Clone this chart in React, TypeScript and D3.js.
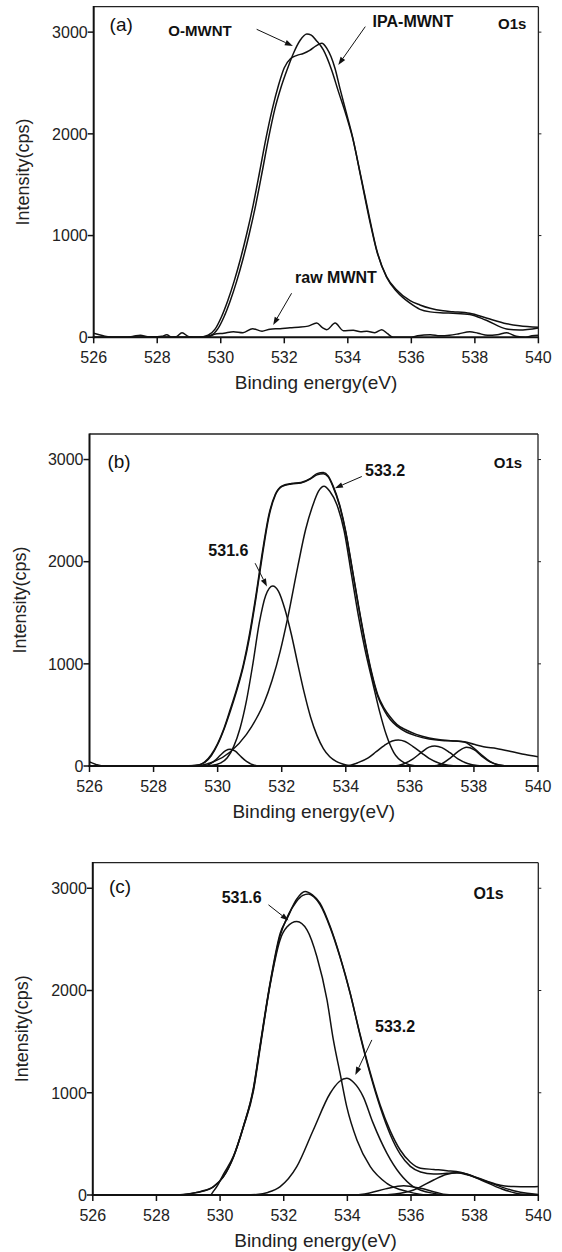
import React from "react";
import * as d3 from "d3";

type Pt = [number, number];

// ---------- axes ----------
const xTicks = [526, 528, 530, 532, 534, 536, 538, 540];
const yTicks = [0, 1000, 2000, 3000];
const xDomain: [number, number] = [526, 540];
const yDomain: [number, number] = [0, 3250];
const xTitle = "Binding energy(eV)";
const yTitle = "Intensity(cps)";

// ---------- panel (a) ----------
const aOMWNT: Pt[] = [
  [526, 0], [529.4, 0], [529.7, 20], [529.9, 80], [530.1, 200], [530.3, 360], [530.5, 550], [530.7, 770],
  [530.9, 1020], [531.1, 1300], [531.3, 1620], [531.5, 1950], [531.7, 2240], [531.9, 2460], [532.1, 2640],
  [532.3, 2800], [532.5, 2920], [532.71, 2982], [532.85, 2970], [533.0, 2920], [533.23, 2825], [533.49, 2628],
  [533.7, 2420], [533.95, 2180], [534.15, 1960], [534.4, 1600], [534.7, 1150], [534.91, 858], [535.22, 596],
  [535.54, 465], [535.96, 360], [536.27, 318], [536.59, 285], [537.0, 260], [537.31, 252], [537.84, 236],
  [538.36, 190], [539.0, 134], [539.4, 114], [540, 98],
];
const aIPAMWNT: Pt[] = [
  [526, 0], [529.3, 0], [529.6, 20], [529.82, 80], [530.02, 200], [530.22, 360], [530.42, 550], [530.62, 770],
  [530.82, 1020], [531.02, 1300], [531.22, 1620], [531.42, 1950], [531.62, 2240], [531.82, 2480], [532.0, 2650],
  [532.2, 2740], [532.4, 2772], [532.6, 2790], [532.8, 2820], [533.0, 2865], [533.18, 2891], [533.34, 2841],
  [533.47, 2760], [533.6, 2640], [533.75, 2450], [533.95, 2210], [534.15, 1970], [534.4, 1590], [534.7, 1130],
  [534.91, 850], [535.22, 590], [535.54, 450], [535.96, 335], [536.27, 275], [536.59, 250], [537.0, 240],
  [537.31, 236], [537.84, 225], [538.36, 167], [539.0, 82], [539.4, 72], [540, 92],
];
const aRawMWNT: Pt[] = [
  [526, 40], [526.3, 15], [526.6, 0], [527.0, 0], [527.25, 10], [527.47, 20], [527.7, 6], [528.0, 5], [528.15, 10],
  [528.3, 25], [528.46, 0], [528.6, 5], [528.78, 45], [529.0, 5], [529.3, 0], [529.6, 5], [529.8, 30], [530.1, 40],
  [530.4, 55], [530.7, 45], [531.0, 85], [531.3, 60], [531.55, 80], [531.87, 85], [532.18, 95], [532.45, 100],
  [532.75, 110], [533.02, 140], [533.2, 95], [533.34, 75], [533.6, 140], [533.86, 65], [534.17, 70], [534.4, 55],
  [534.6, 60], [534.85, 45], [535.07, 75], [535.25, 35], [535.43, 0], [536.0, 0], [536.2, 15], [536.6, 25],
  [536.9, 15], [537.2, 20], [537.5, 35], [537.84, 55], [538.1, 40], [538.4, 20], [538.7, 25], [539.0, 45],
  [539.3, 10], [539.6, 0], [539.8, 15], [540, 20],
];

// ---------- panel (b) ----------
const bData: Pt[] = [
  [526, 40], [526.2, 15], [526.4, 0], [529.0, 0], [529.4, 10], [529.6, 40], [529.8, 110], [530.0, 220],
  [530.2, 370], [530.4, 560], [530.6, 760], [530.8, 990], [531.0, 1300], [531.2, 1680], [531.4, 2100],
  [531.6, 2460], [531.8, 2660], [532.0, 2740], [532.3, 2765], [532.6, 2775], [532.9, 2815], [533.1, 2862],
  [533.3, 2872], [533.45, 2840], [533.6, 2745], [533.8, 2565], [534.0, 2295], [534.2, 1935], [534.4, 1565],
  [534.6, 1225], [534.8, 925], [535.0, 695], [535.2, 565], [535.4, 475], [535.6, 405], [535.9, 350],
  [536.2, 310], [536.6, 275], [537.0, 255], [537.4, 245], [537.7, 238], [538.0, 212], [538.3, 188],
  [538.7, 172], [539.2, 140], [539.6, 112], [540, 90],
];
const bEnvelope: Pt[] = [
  [526, 0], [528.5, 0], [529.3, 5], [529.6, 35], [529.8, 100], [530.0, 210], [530.2, 360], [530.4, 540],
  [530.6, 740], [530.8, 970], [531.0, 1270], [531.2, 1650], [531.4, 2070], [531.6, 2440], [531.8, 2650],
  [532.0, 2735], [532.3, 2760], [532.6, 2770], [532.9, 2810], [533.1, 2850], [533.3, 2860], [533.45, 2830],
  [533.6, 2735], [533.8, 2555], [534.0, 2285], [534.2, 1925], [534.4, 1555], [534.6, 1210], [534.8, 910],
  [535.0, 680], [535.2, 545], [535.4, 450], [535.6, 390], [535.9, 330], [536.2, 295], [536.6, 265],
  [537.0, 250], [537.4, 245], [537.7, 235], [537.9, 200], [538.2, 120], [538.5, 45], [538.8, 8], [539.1, 0],
  [540, 0],
];
const bPeak1: Pt[] = [
  [526, 0], [529.5, 0], [529.7, 10], [529.9, 50], [530.1, 110], [530.25, 150], [530.39, 163], [530.55, 145],
  [530.7, 100], [530.9, 45], [531.1, 12], [531.3, 0], [540, 0],
];
const bPeak2: Pt[] = [
  [526, 0], [529.5, 0], [529.8, 5], [530.1, 30], [530.3, 80], [530.5, 190], [530.7, 370], [530.9, 640],
  [531.1, 1000], [531.3, 1400], [531.5, 1670], [531.72, 1763], [531.9, 1710], [532.1, 1535], [532.3, 1290],
  [532.5, 1000], [532.7, 720], [532.9, 480], [533.1, 300], [533.3, 170], [533.5, 90], [533.7, 45],
  [533.9, 20], [534.1, 5], [534.4, 0], [540, 0],
];
const bPeak3: Pt[] = [
  [526, 0], [529.3, 0], [529.6, 15], [529.9, 45], [530.4, 140], [530.9, 310], [531.2, 460], [531.45, 620],
  [531.7, 840], [531.95, 1120], [532.2, 1470], [532.5, 1950], [532.75, 2320], [532.98, 2560], [533.15, 2690],
  [533.32, 2739], [533.5, 2690], [533.72, 2560], [533.95, 2300], [534.18, 1870], [534.4, 1460],
  [534.6, 1140], [534.83, 830], [535.05, 540], [535.27, 300], [535.5, 130], [535.83, 30], [536.2, 0],
  [540, 0],
];
const bPeak4: Pt[] = [
  [526, 0], [534.0, 0], [534.4, 35], [534.7, 80], [534.95, 140], [535.2, 200], [535.45, 245], [535.64, 255],
  [535.85, 240], [536.1, 190], [536.37, 127], [536.6, 75], [536.9, 30], [537.2, 8], [537.5, 0], [540, 0],
];
const bPeak5: Pt[] = [
  [526, 0], [535.5, 0], [535.8, 20], [536.1, 70], [536.35, 130], [536.6, 185], [536.78, 196], [537.0, 180],
  [537.25, 130], [537.5, 70], [537.8, 25], [538.1, 5], [538.4, 0], [540, 0],
];
const bPeak6: Pt[] = [
  [526, 0], [536.7, 0], [537.0, 22], [537.25, 75], [537.5, 140], [537.77, 183], [538.0, 160], [538.25, 95],
  [538.5, 40], [538.8, 10], [539.1, 0], [540, 0],
];

// ---------- panel (c) ----------
const cData: Pt[] = [
  [526, 0], [529.69, 0], [529.8, 40], [529.95, 110], [530.1, 200], [530.42, 380], [530.73, 668],
  [531.05, 1040], [531.25, 1440], [531.57, 2060], [531.89, 2540], [532.1, 2710], [532.4, 2870],
  [532.6, 2930], [532.78, 2945], [532.95, 2915], [533.14, 2840], [533.46, 2615], [533.77, 2325],
  [534.09, 1968], [534.4, 1570], [534.72, 1195], [535.03, 880], [535.35, 625], [535.66, 440],
  [535.98, 320], [536.3, 262], [536.71, 250], [537.13, 238], [537.55, 222], [537.97, 182], [538.39, 135],
  [538.81, 95], [539.23, 82], [539.65, 80], [540, 84],
];
const cEnvelope: Pt[] = [
  [526, 0], [528.0, 0], [528.74, 3], [529.37, 33], [529.79, 82], [530.1, 179], [530.42, 375], [530.73, 668],
  [531.05, 1050], [531.25, 1450], [531.57, 2071], [531.89, 2560], [532.1, 2700], [532.4, 2890],
  [532.67, 2968], [532.9, 2935], [533.14, 2854], [533.46, 2625], [533.77, 2332], [534.09, 1973],
  [534.4, 1560], [534.72, 1180], [535.03, 860], [535.35, 590], [535.66, 400], [535.98, 280], [536.3, 225],
  [536.71, 205], [537.13, 212], [537.55, 218], [537.97, 179], [538.39, 130], [538.81, 82], [539.23, 42],
  [539.65, 16], [540, 5],
];
const cPeak1: Pt[] = [
  [526, 0], [528.5, 0], [529.37, 30], [529.79, 80], [530.1, 175], [530.42, 370], [530.73, 660],
  [531.05, 1020], [531.25, 1420], [531.57, 2050], [531.89, 2500], [532.1, 2620], [532.41, 2674],
  [532.73, 2593], [533.04, 2332], [533.36, 1908], [533.56, 1517], [533.77, 1191], [533.98, 864],
  [534.3, 538], [534.72, 277], [535.24, 114], [535.9, 33], [536.6, 0], [540, 0],
];
const cPeak2: Pt[] = [
  [526, 0], [530.8, 0], [531.15, 5], [531.5, 25], [531.89, 82], [532.41, 277], [532.93, 636], [533.46, 995],
  [533.75, 1110], [533.98, 1141], [534.2, 1100], [534.5, 960], [534.8, 710], [535.24, 410],
  [535.66, 205], [536.08, 80], [536.71, 16], [537.2, 0], [540, 0],
];
const cPeak3: Pt[] = [
  [526, 0], [534.2, 0], [534.7, 20], [535.2, 60], [535.77, 91], [536.3, 65], [536.8, 25], [537.1, 5],
  [537.5, 0], [540, 0],
];
const cPeak4: Pt[] = [
  [526, 0], [535.0, 0], [535.5, 10], [536.08, 49], [536.71, 147], [537.1, 200], [537.44, 218], [537.8, 195],
  [538.2, 147], [538.81, 65], [539.44, 10], [540, 0],
];

// ---------- layout ----------
type Label = { text: string; x: number; y: number; size: number; bold?: boolean };
type Arrow = { from: Pt; to: Pt };
type Panel = {
  id: string;
  box: { l: number; r: number; t: number; b: number };
  yTitleX: number;
  series: Pt[][];
  labels: Label[];
  arrows: Arrow[];
};

const panels: Panel[] = [
  {
    id: "a",
    box: { l: 93.7, r: 538.4, t: 6.7, b: 337.3 },
    yTitleX: 28.5,
    series: [aRawMWNT, aOMWNT, aIPAMWNT],
    labels: [
      { text: "(a)", x: 526.5, y: 3012, size: 19 },
      { text: "O-MWNT", x: 528.35, y: 2963, size: 15, bold: true },
      { text: "IPA-MWNT", x: 534.78, y: 3054, size: 16, bold: true },
      { text: "O1s", x: 538.73, y: 3031, size: 15, bold: true },
      { text: "raw MWNT", x: 532.34, y: 534, size: 16, bold: true },
    ],
    arrows: [
      { from: [531.13, 3028], to: [532.27, 2864] },
      { from: [534.55, 3054], to: [533.7, 2677] },
      { from: [532.23, 433], to: [531.65, 121] },
    ],
  },
  {
    id: "b",
    box: { l: 89.5, r: 538, t: 434, b: 766 },
    yTitleX: 25.5,
    series: [bPeak1, bPeak2, bPeak3, bPeak4, bPeak5, bPeak6, bEnvelope, bData],
    labels: [
      { text: "(b)", x: 526.56, y: 2921, size: 19 },
      { text: "O1s", x: 538.62, y: 2919, size: 15, bold: true },
      { text: "533.2", x: 534.6, y: 2840, size: 16, bold: true },
      { text: "531.6", x: 529.71, y: 2057, size: 16, bold: true },
    ],
    arrows: [
      { from: [534.5, 2834], to: [533.66, 2720] },
      { from: [531.17, 1985], to: [531.54, 1756] },
    ],
  },
  {
    id: "c",
    box: { l: 92.8, r: 538.3, t: 862.7, b: 1195 },
    yTitleX: 28,
    series: [cPeak1, cPeak2, cPeak3, cPeak4, cEnvelope, cData],
    labels: [
      { text: "(c)", x: 526.51, y: 2958, size: 19 },
      { text: "O1s", x: 537.96, y: 2896, size: 16, bold: true },
      { text: "531.6", x: 530.05, y: 2854, size: 16, bold: true },
      { text: "533.2", x: 534.87, y: 1598, size: 16, bold: true },
    ],
    arrows: [
      { from: [531.52, 2838], to: [532.15, 2684] },
      { from: [534.77, 1517], to: [534.25, 1174] },
    ],
  },
];

const FONT = "'Liberation Sans', Arial, Helvetica, sans-serif";
const INK = "#111";

function ArrowMark({ from, to }: { from: [number, number]; to: [number, number] }) {
  const dx = to[0] - from[0];
  const dy = to[1] - from[1];
  const len = Math.hypot(dx, dy);
  const ux = dx / len;
  const uy = dy / len;
  const hl = 8;
  const hw = 2.8;
  const bx = to[0] - ux * hl;
  const by = to[1] - uy * hl;
  const p1 = [bx - uy * hw, by + ux * hw];
  const p2 = [bx + uy * hw, by - ux * hw];
  return (
    <g>
      <line x1={from[0]} y1={from[1]} x2={bx} y2={by} stroke={INK} strokeWidth={1} />
      <polygon points={`${to[0]},${to[1]} ${p1[0]},${p1[1]} ${p2[0]},${p2[1]}`} fill={INK} />
    </g>
  );
}

function PanelView({ p }: { p: Panel }) {
  const { l, r, t, b } = p.box;
  const x = d3.scaleLinear().domain(xDomain).range([l, r]);
  const y = d3.scaleLinear().domain(yDomain).range([b, t]);
  const line = d3
    .line<Pt>()
    .x((d) => x(d[0]))
    .y((d) => y(d[1]))
    .curve(d3.curveMonotoneX);
  const clipId = `clip-${p.id}`;
  const cy = (t + b) / 2;
  return (
    <g>
      <defs>
        <clipPath id={clipId}>
          <rect x={l} y={t} width={r - l} height={b - t + 1} />
        </clipPath>
      </defs>
      <g clipPath={`url(#${clipId})`}>
        {p.series.map((s, i) => (
          <path key={i} d={line(s) || ""} fill="none" stroke={INK} strokeWidth={1.5} strokeLinejoin="round" />
        ))}
      </g>
      {/* frame */}
      <line x1={l} y1={t} x2={r} y2={t} stroke="#222" strokeWidth={1.3} />
      <line x1={r} y1={t} x2={r} y2={b} stroke="#222" strokeWidth={1.3} />
      <line x1={l} y1={t - 0.6} x2={l} y2={b + 1} stroke={INK} strokeWidth={2} />
      <line x1={l - 1} y1={b} x2={r + 0.6} y2={b} stroke={INK} strokeWidth={2} />
      {/* y ticks */}
      {yTicks.map((v) => (
        <g key={`y${v}`}>
          <line x1={l - 6} x2={l} y1={y(v)} y2={y(v)} stroke={INK} strokeWidth={1.5} />
          {v > 0 && <line x1={r} x2={r + 3} y1={y(v)} y2={y(v)} stroke="#222" strokeWidth={1} />}
          <text
            x={l - 6}
            y={y(v)}
            dy="0.36em"
            textAnchor="end"
            fontFamily={FONT}
            fontSize={16}
            fill="#222"
          >
            {v}
          </text>
        </g>
      ))}
      {/* x ticks */}
      {xTicks.map((v) => (
        <g key={`x${v}`}>
          <line x1={x(v)} x2={x(v)} y1={b} y2={b + 6} stroke={INK} strokeWidth={1.5} />
          <text x={x(v)} y={b + 26} textAnchor="middle" fontFamily={FONT} fontSize={16} fill="#222">
            {v}
          </text>
        </g>
      ))}
      <text x={(l + r) / 2} y={b + 52} textAnchor="middle" fontFamily={FONT} fontSize={19} fill="#222">
        {xTitle}
      </text>
      <text
        transform={`translate(${p.yTitleX},${cy}) rotate(-90)`}
        textAnchor="middle"
        fontFamily={FONT}
        fontSize={18}
        fill="#222"
      >
        {yTitle}
      </text>
      {p.labels.map((lb, i) => (
        <text
          key={i}
          x={x(lb.x)}
          y={y(lb.y)}
          fontFamily={FONT}
          fontSize={lb.size}
          fontWeight={lb.bold ? "bold" : "normal"}
          fill={INK}
        >
          {lb.text}
        </text>
      ))}
      {p.arrows.map((a, i) => (
        <ArrowMark key={i} from={[x(a.from[0]), y(a.from[1])]} to={[x(a.to[0]), y(a.to[1])]} />
      ))}
    </g>
  );
}

export default function App() {
  return (
    <svg
      width={562}
      height={1252}
      viewBox="0 0 562 1252"
      style={{ position: "absolute", left: 0, top: 0, background: "#fff" }}
    >
      <rect x={0} y={0} width={562} height={1252} fill="#fff" />
      {panels.map((p) => (
        <PanelView key={p.id} p={p} />
      ))}
    </svg>
  );
}
